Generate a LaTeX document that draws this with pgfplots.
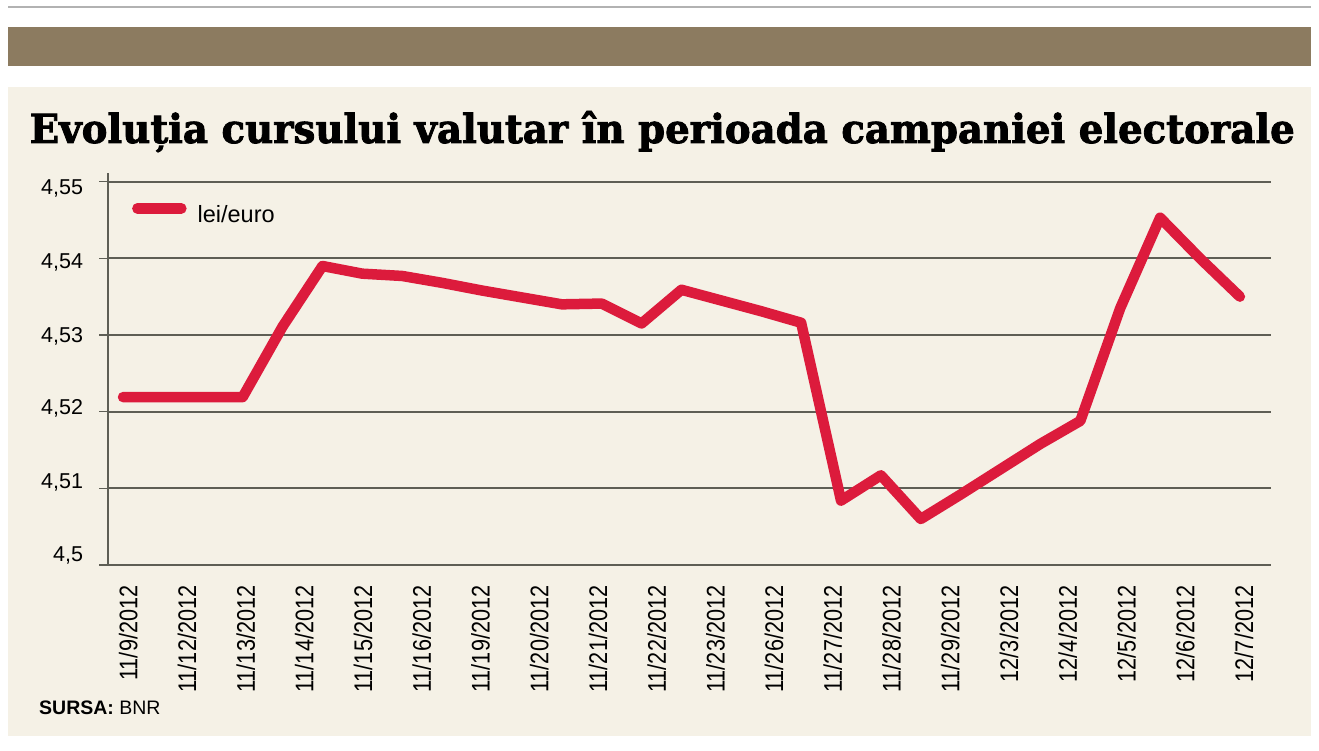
\documentclass[border=0pt]{standalone}
\usepackage{pgfplots}
\pgfplotsset{compat=1.18}
\usepackage{pgfplotstable}
\usepackage{graphicx}
\usepackage{fontspec}
\setmainfont{Liberation Sans}
\newfontfamily\titlefont[FakeBold=2.2]{DejaVu Serif}
\newfontfamily\condfont[FakeStretch=0.85]{Liberation Sans}
\definecolor{band}{HTML}{8C7B60}
\definecolor{cream}{HTML}{F5F1E6}
\definecolor{linered}{HTML}{DC1B3C}
\definecolor{gridc}{HTML}{5E5E55}

\pgfplotstableread{
x y
0 4.5219
1 4.5219
2 4.5219
3 4.5219
4 4.5311
5 4.5390
6 4.5380
7 4.5377
8 4.5368
9 4.5358
10 4.5349
11 4.5340
12 4.5341
13 4.5315
14 4.5359
15 4.5345
16 4.5331
17 4.5316
18 4.5084
19 4.5117
20 4.5060
21 4.5092
22 4.5125
23 4.5158
24 4.5188
25 4.5335
26 4.5453
27 4.5400
28 4.5350
}\ratedata

\begin{document}
\begin{tikzpicture}[x=1pt,y=1pt]
\fill[white] (0,0) rectangle (1319,750);
\draw[gray!60, line width=1.2pt] (8,743) -- (1311,743);
\fill[band] (8,684) rectangle (1311,723);
\fill[cream] (8,14) rectangle (1311,663);
\node[anchor=base west, inner sep=0pt] at (29.5,607) {\resizebox{1265pt}{\height}{\titlefont\bfseries\fontsize{40}{42}\selectfont Evoluția cursului valutar în perioada campaniei electorale}};
\node[anchor=base west, inner sep=0pt] at (39,36) {\fontsize{19.5}{22}\selectfont\textbf{SURSA:} BNR};
\begin{axis}[
  at={(107.7pt,185pt)}, anchor=south west,
  scale only axis, width=1163.3pt, height=392.3pt,
  xmin=-0.384, xmax=28.78, ymin=4.5, ymax=4.55117,
  clip=false,
  axis x line=bottom, axis y line=left,
  axis line style={-, draw=gridc, line width=1.6pt},
  ytick={4.5,4.51,4.52,4.53,4.54,4.55},
  yticklabels={{\raisebox{3.3pt}{4,5}},{\raisebox{0pt}{4,51}},{\raisebox{-3.3pt}{4,52}},{\raisebox{-7pt}{4,53}},{\raisebox{-9.9pt}{4,54}},{\raisebox{-13.3pt}{4,55}}},
  ymajorgrids=true,
  grid style={draw=gridc, line width=1.8pt},
  major tick length=8.5pt,
  tick align=outside,
  ytick style={draw=gridc, line width=1.6pt},
  xtick style={draw=none},
  xtick={0.13,1.602,3.074,4.546,6.018,7.491,8.963,10.435,11.907,13.379,14.851,16.323,17.795,19.267,20.739,22.212,23.684,25.156,26.628,28.10},
  xticklabels={11/9/2012,11/12/2012,11/13/2012,11/14/2012,11/15/2012,11/16/2012,11/19/2012,11/20/2012,11/21/2012,11/22/2012,11/23/2012,11/26/2012,11/27/2012,11/28/2012,11/29/2012,12/3/2012,12/4/2012,12/5/2012,12/6/2012,12/7/2012},
  xticklabel style={rotate=90, anchor=east, inner sep=0pt, font=\condfont\fontsize{25.5}{25.5}\selectfont},
  xticklabel shift=12pt,
  yticklabel style={anchor=base east, inner sep=0pt, font=\fontsize{21.5}{21.5}\selectfont},
  yticklabel shift=16pt,
  legend image code/.code={\draw[#1, line cap=round] (0pt,6.7pt) -- (44pt,6.7pt); \path (55pt,0pt);},
  legend style={at={(axis description cs:0.021,0.8955)}, anchor=west, draw=none, fill=none,
    inner sep=0pt, outer sep=0pt, column sep=0pt,
    nodes={inner sep=0pt, font=\fontsize{23.5}{23.5}\selectfont}},
]
\addplot[linered, line width=10.5pt, line cap=round, line join=round] table[x=x,y=y]{\ratedata};
\addlegendentry{lei/euro}
\end{axis}
\end{tikzpicture}
\end{document}
